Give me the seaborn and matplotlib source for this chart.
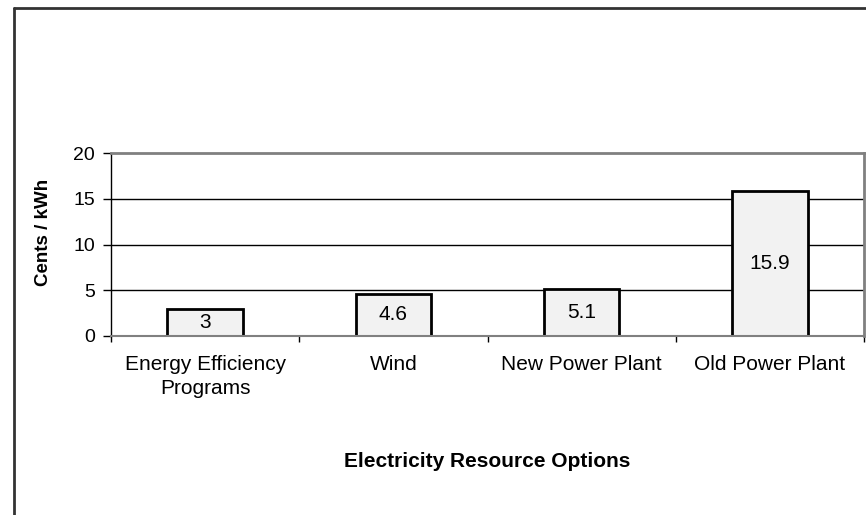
import matplotlib
matplotlib.use("Agg")
import matplotlib.pyplot as plt
from matplotlib.lines import Line2D
import seaborn as sns
import pandas as pd

categories = ["Energy Efficiency\nPrograms", "Wind", "New Power Plant", "Old Power Plant"]
cents_per_kwh = [3, 4.6, 5.1, 15.9]
y_ticks = [0, 5, 10, 15, 20]

sns.set_theme(style="white")
plt.rcParams["font.family"] = ["Liberation Sans", "DejaVu Sans"]
plt.rcParams.update({"text.color": "black", "axes.labelcolor": "black",
                     "xtick.color": "black", "ytick.color": "black"})

df = pd.DataFrame({"option": categories, "cost": cents_per_kwh})

W, H = 866, 515
fig = plt.figure(figsize=(W / 100, H / 100), dpi=100)
ax = fig.add_axes([111 / W, 1 - 336 / H, (864 - 111) / W, (336 - 153) / H])

sns.barplot(data=df, x="option", y="cost", ax=ax, color="#f2f2f2",
            edgecolor="black", linewidth=2, width=0.4, saturation=1)

ax.set_xlim(-0.5, 3.5)
ax.set_ylim(0, 20)
ax.set_yticks(y_ticks)
ax.set_yticklabels([str(v) for v in y_ticks], fontsize=14)

# horizontal gridlines behind bars
for v in y_ticks[1:-1]:
    ax.axhline(v, color="black", linewidth=1, zorder=0)

# category labels without ticks, tick marks on category boundaries
ax.set_xticks(range(len(categories)))
ax.set_xticklabels(categories, fontsize=15, linespacing=1.35)
ax.tick_params(axis="x", which="major", length=0, pad=13.5)
ax.set_xticks([i - 0.5 for i in range(len(categories) + 1)], minor=True)
ax.tick_params(axis="x", which="minor", bottom=True, length=4, width=1, color="black", direction="out")
ax.tick_params(axis="y", left=True, length=5.5, width=1, color="black", direction="out", pad=6)

for side in ["top", "right"]:
    ax.spines[side].set_visible(True)
    ax.spines[side].set_color("#808080")
    ax.spines[side].set_linewidth(2)
ax.spines["left"].set_color("black")
ax.spines["left"].set_linewidth(1)
ax.spines["bottom"].set_color("#808080")
ax.spines["bottom"].set_linewidth(1.5)

for container in ax.containers:
    ax.bar_label(container, labels=[f"{v:g}" for v in cents_per_kwh],
                 label_type="center", fontsize=15, color="black")

ax.set_ylabel("Cents / kWh", fontsize=13.5, fontweight="bold")
ax.yaxis.label.set_va("center")
ax.yaxis.set_label_coords((44 - 111) / 753, (336 - 232) / 183)

ax.set_xlabel("Electricity Resource Options", fontsize=15, fontweight="bold")
ax.xaxis.label.set_va("baseline")
ax.xaxis.set_label_coords(0.5, (336 - 467) / 183)

# outer chart frame
fig.add_artist(Line2D([13.5 / W, 13.5 / W], [0, 1 - 7.5 / H], transform=fig.transFigure,
                      color="#333333", linewidth=2))
fig.add_artist(Line2D([13.5 / W, 1], [1 - 7.5 / H, 1 - 7.5 / H], transform=fig.transFigure,
                      color="#333333", linewidth=2))

fig.savefig("out.png", dpi=100)
